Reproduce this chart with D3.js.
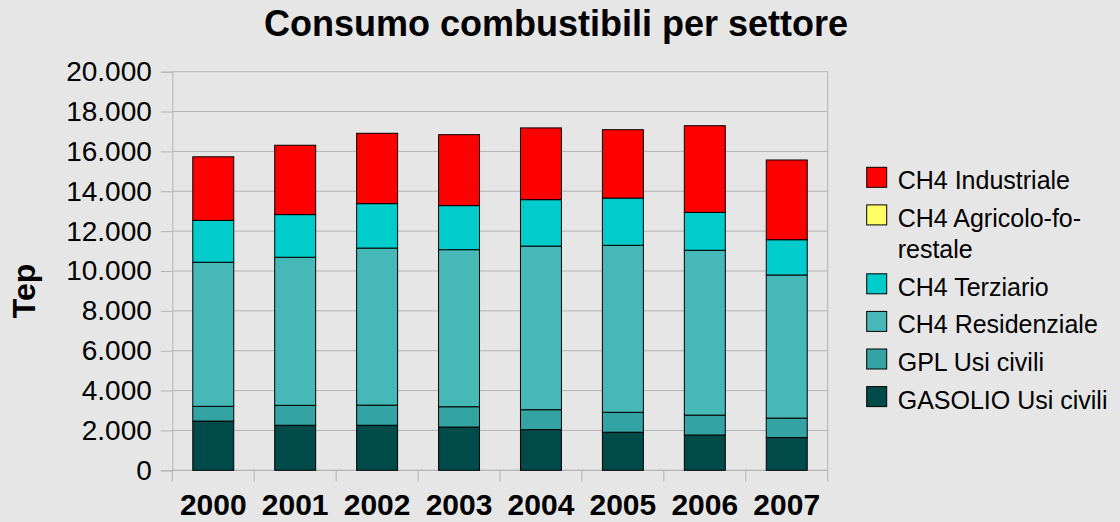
<!DOCTYPE html>
<html>
<head>
<meta charset="utf-8">
<script src="https://cdn.jsdelivr.net/npm/d3@7"></script>
<style>
  html, body { margin: 0; padding: 0; background: #e6e6e6; }
  svg { display: block; font-family: "Liberation Sans", Arial, sans-serif; }
</style>
</head>
<body>
<svg id="chart" width="1120" height="522"></svg>
<script>
// Anni
const years = ["2000", "2001", "2002", "2003", "2004", "2005", "2006", "2007"];

// Consumi per settore (Tep)
const gasolioUsiCivili   = [2470, 2260, 2260, 2170, 2040, 1910, 1770, 1640];
const gplUsiCivili       = [740, 1000, 1010, 1020, 1000, 1000, 1000, 980];
const ch4Residenziale    = [7230, 7430, 7880, 7880, 8210, 8380, 8270, 7180];
const ch4Terziario       = [2100, 2140, 2230, 2210, 2330, 2370, 1900, 1770];
const ch4Agricolo        = [0, 0, 0, 0, 0, 0, 0, 0];
const ch4Industriale     = [3190, 3480, 3530, 3560, 3600, 3430, 4350, 4000];

const yTicks = [0, 2000, 4000, 6000, 8000, 10000, 12000, 14000, 16000, 18000, 20000];

// Serie dal basso verso l'alto
const seriesNames = ["GASOLIO Usi civili", "GPL Usi civili", "CH4 Residenziale",
                     "CH4 Terziario", "CH4 Agricolo-forestale", "CH4 Industriale"];
const seriesValues = [gasolioUsiCivili, gplUsiCivili, ch4Residenziale,
                      ch4Terziario, ch4Agricolo, ch4Industriale];
const seriesColors = ["#004a4a", "#33a3a3", "#47b8b8", "#00cccc", "#ffff66", "#ff0000"];

const rows = years.map((y, i) => {
  const r = { year: y };
  seriesNames.forEach((n, k) => { r[n] = seriesValues[k][i]; });
  return r;
});

const svg = d3.select("#chart");
const plot = { left: 172.3, right: 827.7, top: 71.7, bottom: 470.3 };

const x = d3.scaleBand().domain(years)
  .range([plot.left, plot.right]).paddingInner(0.5).paddingOuter(0.25);
const y = d3.scaleLinear().domain([0, 20000]).range([plot.bottom, plot.top]);

const it = d3.formatLocale({ decimal: ",", thousands: ".", grouping: [3], currency: ["", ""] });
const fmt = it.format(",d");

// Griglia orizzontale
svg.append("g").selectAll("line").data(yTicks).join("line")
  .attr("x1", plot.left).attr("x2", plot.right)
  .attr("y1", d => y(d)).attr("y2", d => y(d))
  .attr("stroke", "#b3b3b3").attr("stroke-width", 1);

// Bordo destro dell'area del grafico
svg.append("line")
  .attr("x1", plot.right).attr("x2", plot.right)
  .attr("y1", plot.top).attr("y2", plot.bottom)
  .attr("stroke", "#b3b3b3");

// Asse Y
const yAxis = svg.append("g")
  .attr("transform", `translate(${plot.left},0)`)
  .call(d3.axisLeft(y).tickValues(yTicks).tickFormat(fmt).tickSize(11.5).tickPadding(9));
yAxis.select(".domain").attr("stroke", "#b3b3b3");
yAxis.selectAll(".tick line").attr("stroke", "#b3b3b3");
yAxis.selectAll(".tick text")
  .attr("font-family", "Liberation Sans, Arial, sans-serif")
  .attr("font-size", 28).attr("fill", "#000");

// Asse X: tacche ai confini delle categorie
const step = x.step();
const edges = years.map(d => x(d) - step * x.paddingInner() / 2)
  .concat([x(years[years.length - 1]) + x.bandwidth() + step * x.paddingInner() / 2]);
svg.append("line")
  .attr("x1", plot.left).attr("x2", plot.right)
  .attr("y1", plot.bottom).attr("y2", plot.bottom)
  .attr("stroke", "#b3b3b3");
svg.append("g").selectAll("line").data(edges).join("line")
  .attr("x1", d => d).attr("x2", d => d)
  .attr("y1", plot.bottom).attr("y2", plot.bottom + 11.5)
  .attr("stroke", "#b3b3b3");
svg.append("g").selectAll("text").data(years).join("text")
  .attr("x", d => x(d) + x.bandwidth() / 2).attr("y", 515)
  .attr("text-anchor", "middle")
  .attr("font-size", 30).attr("font-weight", "bold")
  .text(d => d);

// Barre impilate
const stacked = d3.stack().keys(seriesNames)(rows);
const layers = svg.append("g").selectAll("g").data(stacked).join("g")
  .attr("fill", (d, i) => seriesColors[i]);
layers.selectAll("rect").data(d => d).join("rect")
  .attr("x", d => x(d.data.year))
  .attr("width", x.bandwidth())
  .attr("y", d => y(d[1]))
  .attr("height", d => y(d[0]) - y(d[1]))
  .attr("stroke", "#000").attr("stroke-width", 1);

// Titolo
svg.append("text")
  .attr("x", 556).attr("y", 36)
  .attr("text-anchor", "middle")
  .attr("font-size", 36).attr("font-weight", "bold")
  .text("Consumo combustibili per settore");

// Titolo asse Y
svg.append("text")
  .attr("transform", "translate(35,291) rotate(-90)")
  .attr("text-anchor", "middle")
  .attr("font-size", 32).attr("font-weight", "bold")
  .text("Tep");

// Legenda (dall'alto verso il basso)
const legendItems = [
  { idx: 5, lines: ["CH4 Industriale"] },
  { idx: 4, lines: ["CH4 Agricolo-fo-", "restale"] },
  { idx: 3, lines: ["CH4 Terziario"] },
  { idx: 2, lines: ["CH4 Residenziale"] },
  { idx: 1, lines: ["GPL Usi civili"] },
  { idx: 0, lines: ["GASOLIO Usi civili"] }
];
let ly = 167.3;
const legend = svg.append("g");
legendItems.forEach(item => {
  legend.append("rect")
    .attr("x", 866.7).attr("y", ly).attr("width", 20).attr("height", 20)
    .attr("fill", seriesColors[item.idx]).attr("stroke", "#000").attr("stroke-width", 1);
  const t = legend.append("text").attr("font-size", 25).attr("fill", "#000");
  item.lines.forEach((l, j) => {
    t.append("tspan").attr("x", 897.7).attr("y", ly + 22 + j * 31.3).text(l);
  });
  ly += 37.6 + (item.lines.length - 1) * 31.3;
});
</script>
</body>
</html>
